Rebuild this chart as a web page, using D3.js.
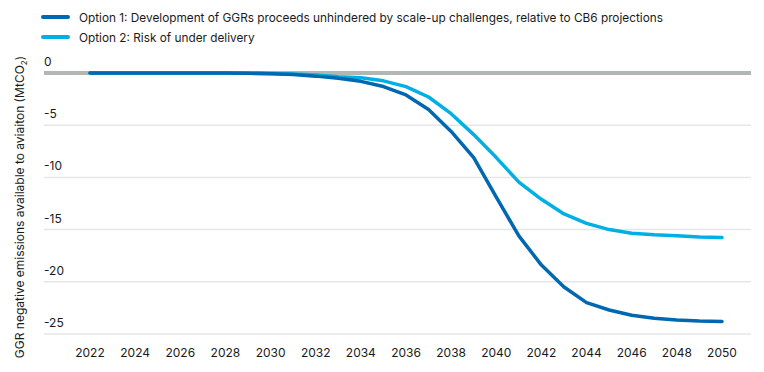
<!DOCTYPE html>
<html><head><meta charset="utf-8">
<script src="https://cdn.jsdelivr.net/npm/d3@7"></script>
<style>body{margin:0;background:#fff}svg{display:block}text{font-family:Inter,"Noto Sans",sans-serif;fill:#1a1a1a}</style>
</head><body><svg id="c" width="764" height="372"></svg>
<script>
const years = d3.range(2022, 2051);
const option1 = [0,0,0,0,0,0,0,-0.02,-0.08,-0.15,-0.3,-0.5,-0.8,-1.3,-2.1,-3.5,-5.6,-8.1,-11.9,-15.6,-18.4,-20.5,-22.0,-22.7,-23.2,-23.5,-23.65,-23.75,-23.8];
const option2 = [0,0,0,0,0,0,0,-0.02,-0.05,-0.1,-0.2,-0.35,-0.45,-0.75,-1.3,-2.3,-3.9,-5.9,-8.1,-10.45,-12.1,-13.5,-14.4,-15.0,-15.35,-15.5,-15.6,-15.7,-15.75];
const yTicks = [0,-5,-10,-15,-20,-25];
const xTicks = d3.range(2022, 2051, 2);
const seriesNames = ["Option 1: Development of GGRs proceeds unhindered by scale-up challenges, relative to CB6 projections","Option 2: Risk of under delivery"];
const colors = ["#0068b0","#00b0e4"];

const svg = d3.select("#c");
const x = d3.scaleLinear().domain([2022,2050]).range([90,722]);
const y = d3.scaleLinear().domain([0,-25]).range([73,334]);
const gx0 = 44, gx1 = 751;

// gridlines
svg.append("g").selectAll("line").data(yTicks.filter(d=>d!==0)).join("line")
  .attr("x1",gx0).attr("x2",gx1).attr("y1",d=>y(d)).attr("y2",d=>y(d))
  .attr("stroke","#e6e6e6").attr("stroke-width",1.5);
svg.append("line").attr("x1",gx0).attr("x2",gx1).attr("y1",y(0)).attr("y2",y(0))
  .attr("stroke","#b2b7b6").attr("stroke-width",4);

// y labels
svg.append("g").selectAll("text").data(yTicks).join("text")
  .attr("x",gx0).attr("y",d=>y(d)-7).attr("font-size",12).text(d=>d);

// x labels
svg.append("g").selectAll("text").data(xTicks).join("text")
  .attr("x",d=>x(d)).attr("y",357).attr("text-anchor","middle").attr("font-size",12).text(d=>d);

// y title
const yt = svg.append("text").attr("transform","translate(24,207) rotate(-90)")
  .attr("text-anchor","middle").attr("font-size",12);
yt.append("tspan").text("GGR negative emissions available to aviaiton (MtCO");
yt.append("tspan").attr("font-size",8).attr("dy",3).text("2");
yt.append("tspan").attr("dy",-3).text(")");

// lines
const line = d3.line().x((d,i)=>x(years[i])).y(d=>y(d));
[option2, option1].forEach((s,k)=>{
  const ci = k===0?1:0;
  svg.append("path").datum(s).attr("d",line).attr("fill","none")
    .attr("stroke",colors[ci]).attr("stroke-width",3.5).attr("stroke-linecap","round").attr("stroke-linejoin","round");
});

// legend
seriesNames.forEach((n,i)=>{
  const ly = 17 + i*20;
  svg.append("line").attr("x1",43).attr("x2",68).attr("y1",ly).attr("y2",ly)
    .attr("stroke",colors[i]).attr("stroke-width",4).attr("stroke-linecap","round");
  svg.append("text").attr("x",79).attr("y",ly+4.5).attr("font-size",11.8).text(n);
});
</script></body></html>
